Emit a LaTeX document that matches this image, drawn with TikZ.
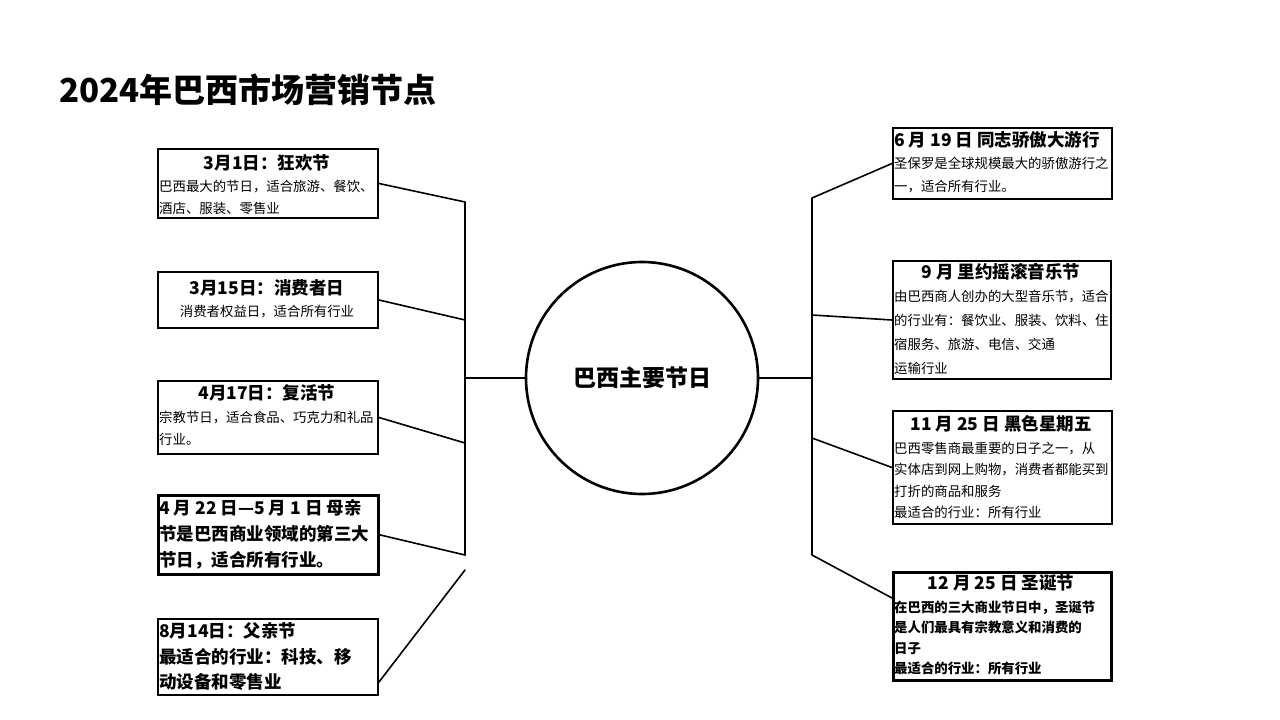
\documentclass[tikz,border=0pt]{standalone}
\usepackage{fontspec}
\setmainfont{Noto Sans CJK SC}
\begin{document}
\begin{tikzpicture}[x=1pt,y=-1pt,
  frame/.style={draw, line width=2pt, rectangle, inner sep=0pt, anchor=north west},
  headtxt/.style={font=\bfseries\fontsize{17.5}{21}\selectfont, inner sep=0pt},
  bodytxt/.style={font=\fontsize{13.4}{22}\selectfont, inner sep=0pt, anchor=north west, align=left},
  bigtxt/.style={font=\bfseries\fontsize{17.5}{26}\selectfont, inner sep=0pt, anchor=north west, align=left},
  link/.style={line width=1.6pt, line cap=round}]
\useasboundingbox (0,0) rectangle (1280,720);

% title
\node[font=\bfseries\fontsize{33}{40}\selectfont, anchor=west, inner sep=0pt] (title) at (59,90) {2024年巴西市场营销节点};

% central hub
\node[circle, draw, line width=2.6pt, minimum size=232pt, inner sep=0pt,
      font=\bfseries\fontsize{23}{26}\selectfont] (hub) at (642,378) {巴西主要节日};

% left column
\node[frame, minimum width=220pt, minimum height=69pt] (L1) at (157,148) {};
\node[headtxt] (L1h) at (267,163) {3月1日：狂欢节};
\node[bodytxt] (L1b) at (159,179.5) {巴西最大的节日，适合旅游、餐饮、\\酒店、服装、零售业};

\node[frame, minimum width=220pt, minimum height=56pt] (L2) at (157,271) {};
\node[headtxt] (L2h) at (267,288) {3月15日：消费者日};
\node[bodytxt, anchor=north] (L2b) at (267,305.5) {消费者权益日，适合所有行业};

\node[frame, minimum width=220pt, minimum height=73pt] (L3) at (157,380) {};
\node[headtxt] (L3h) at (267,393) {4月17日：复活节};
\node[bodytxt] (L3b) at (159,410.5) {宗教节日，适合食品、巧克力和礼品\\行业。};

\node[frame, line width=2.6pt, minimum width=220pt, minimum height=79pt] (L4) at (157,494) {};
\node[bigtxt] (L4b) at (159,499.5) {4 月 22 日—5 月 1 日 母亲\\节是巴西商业领域的第三大\\节日，适合所有行业。};

\node[frame, minimum width=220pt, minimum height=76pt] (L5) at (157,618) {};
\node[bigtxt, font=\bfseries\fontsize{17.5}{25.5}\selectfont] (L5b) at (159,622.5) {8月14日：父亲节\\最适合的行业：科技、移\\动设备和零售业};

% right column
\node[frame, minimum width=219pt, minimum height=71pt] (R1) at (892,127) {};
\node[headtxt, anchor=west] (R1h) at (894,140) {6 月 19 日 同志骄傲大游行};
\node[bodytxt, font=\fontsize{13.4}{23}\selectfont] (R1b) at (894,156.5) {圣保罗是全球规模最大的骄傲游行之\\一，适合所有行业。};

\node[frame, minimum width=218pt, minimum height=118pt] (R2) at (892,260) {};
\node[headtxt] (R2h) at (1001,272) {9 月 里约摇滚音乐节};
\node[bodytxt, font=\fontsize{13.4}{24}\selectfont] (R2b) at (894,289.5) {由巴西商人创办的大型音乐节，适合\\的行业有：餐饮业、服装、饮料、住\\宿服务、旅游、电信、交通\\运输行业};

\node[frame, minimum width=219pt, minimum height=113pt] (R3) at (892,410) {};
\node[headtxt] (R3h) at (1001,424) {11 月 25 日 黑色星期五};
\node[bodytxt, font=\fontsize{13.4}{21.5}\selectfont] (R3b) at (894,441.5) {巴西零售商最重要的日子之一，从\\实体店到网上购物，消费者都能买到\\打折的商品和服务\\最适合的行业：所有行业};

\node[frame, line width=2.6pt, minimum width=218pt, minimum height=108pt] (R4) at (892,571) {};
\node[headtxt] (R4h) at (1001,583) {12 月 25 日 圣诞节};
\node[bodytxt, font=\bfseries\fontsize{13.4}{20.5}\selectfont] (R4b) at (894,600.5) {在巴西的三大商业节日中，圣诞节\\是人们最具有宗教意义和消费的\\日子\\最适合的行业：所有行业};

% left spine
\coordinate (ls1) at (465,202);
\coordinate (ls2) at (465,320);
\coordinate (ls3) at (465,443);
\coordinate (ls4) at (465,555);
\coordinate (ls5) at (465,570);
\coordinate (lc) at (465,378);
\draw[link] (ls1) -- (ls4);
\draw[link] (L1.east) -- (ls1);
\draw[link] (L2.east) -- (ls2);
\draw[link] (L3.east) -- (ls3);
\draw[link] (L4.east) -- (ls4);
\draw[link] ([yshift=14pt]L5.south east) -- (ls5);
\draw[link] (lc) -- (hub.west);

% right spine
\coordinate (rs1) at (812,198);
\coordinate (rs2) at (812,315);
\coordinate (rs3) at (812,438);
\coordinate (rs4) at (812,555);
\coordinate (rc) at (812,378);
\draw[link] (rs1) -- (rs4);
\draw[link] (rs1) -- (R1.west);
\draw[link] (rs2) -- (R2.west);
\draw[link] (rs3) -- (R3.west);
\draw[link] (rs4) -- ([yshift=-27pt]R4.north west);
\draw[link] (hub.east) -- (rc);
\end{tikzpicture}
\end{document}
